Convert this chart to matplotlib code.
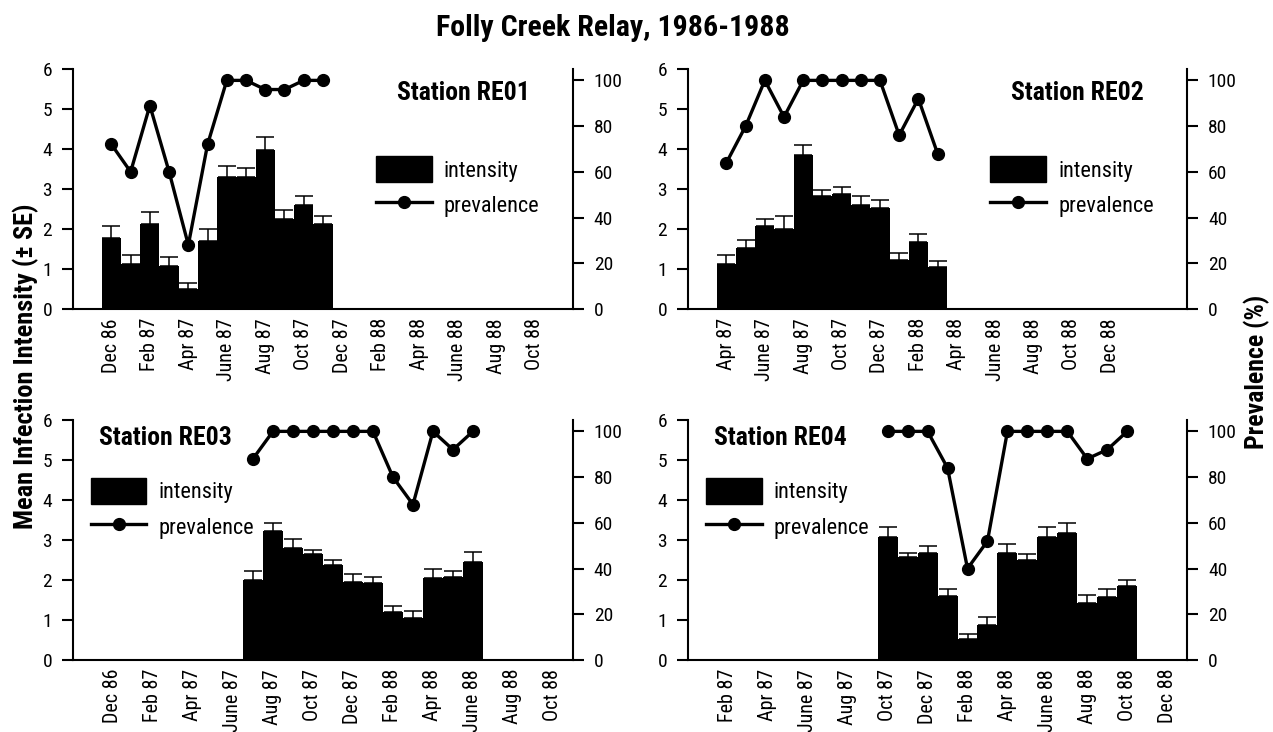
import numpy as np
import matplotlib
matplotlib.use('Agg')
import matplotlib.pyplot as plt
from matplotlib.patches import Patch
from matplotlib.lines import Line2D

plt.rcParams['font.family'] = ['Roboto Condensed', 'Liberation Sans', 'DejaVu Sans']

# data
stations = ['Station RE01', 'Station RE02', 'Station RE03', 'Station RE04']

re01_intensity = [1.77, 1.13, 2.12, 1.08, 0.50, 1.69, 3.30, 3.30, 3.97, 2.26, 2.60, 2.12]
re01_se = [0.30, 0.21, 0.31, 0.23, 0.15, 0.31, 0.27, 0.23, 0.32, 0.21, 0.22, 0.20]
re01_prev = [72, 60, 89, 60, 28, 72, 100, 100, 96, 96, 100, 100]

re02_intensity = [1.13, 1.52, 2.08, 2.00, 3.84, 2.82, 2.88, 2.61, 2.53, 1.22, 1.68, 1.04]
re02_se = [0.22, 0.21, 0.18, 0.32, 0.27, 0.15, 0.18, 0.21, 0.20, 0.18, 0.20, 0.17]
re02_prev = [64, 80, 100, 84, 100, 100, 100, 100, 100, 76, 92, 68]

re03_intensity = [2.00, 3.23, 2.81, 2.65, 2.37, 1.96, 1.93, 1.21, 1.05, 2.04, 2.08, 2.44]
re03_se = [0.23, 0.20, 0.21, 0.10, 0.13, 0.19, 0.15, 0.14, 0.17, 0.23, 0.15, 0.27]
re03_prev = [88, 100, 100, 100, 100, 100, 100, 80, 68, 100, 92, 100]

re04_intensity = [3.08, 2.58, 2.68, 1.61, 0.53, 0.88, 2.68, 2.49, 3.08, 3.17, 1.42, 1.57, 1.85]
re04_se = [0.24, 0.10, 0.17, 0.17, 0.12, 0.19, 0.22, 0.16, 0.24, 0.26, 0.20, 0.21, 0.14]
re04_prev = [100, 100, 100, 84, 40, 52, 100, 100, 100, 100, 88, 92, 100]

# first sampled month of each station
first_month = ['Dec 86', 'Apr 87', 'July 87', 'Oct 87']

ticks_a = ['Dec 86', 'Feb 87', 'Apr 87', 'June 87', 'Aug 87', 'Oct 87',
           'Dec 87', 'Feb 88', 'Apr 88', 'June 88', 'Aug 88', 'Oct 88']
ticks_b = ['Apr 87', 'June 87', 'Aug 87', 'Oct 87', 'Dec 87', 'Feb 88',
           'Apr 88', 'June 88', 'Aug 88', 'Oct 88', 'Dec 88']
ticks_c = ['Feb 87', 'Apr 87', 'June 87', 'Aug 87', 'Oct 87', 'Dec 87',
           'Feb 88', 'Apr 88', 'June 88', 'Aug 88', 'Oct 88', 'Dec 88']

MONTHS = {'Jan': 1, 'Feb': 2, 'Mar': 3, 'Apr': 4, 'May': 5, 'June': 6,
          'July': 7, 'Aug': 8, 'Sept': 9, 'Oct': 10, 'Nov': 11, 'Dec': 12}


def month_index(label):
    name, yy = label.split()
    return int(yy) * 12 + MONTHS[name]


panels = [
    (re01_intensity, re01_se, re01_prev, ticks_a, (0.0573, 0.5779, 0.3928, 0.3279), 24, 'right'),
    (re02_intensity, re02_se, re02_prev, ticks_b, (0.5405, 0.5779, 0.3920, 0.3279), 24, 'right'),
    (re03_intensity, re03_se, re03_prev, ticks_a, (0.0573, 0.0984, 0.3928, 0.3279), 23, 'left'),
    (re04_intensity, re04_se, re04_prev, ticks_c, (0.5405, 0.0984, 0.3920, 0.3279), 23, 'left'),
]

fig = plt.figure(figsize=(12.73, 7.32), dpi=100)

for i, (inten, se, prev, ticks, rect, xmax, side) in enumerate(panels):
    ax = fig.add_axes(rect)
    origin = month_index(ticks[0])
    x = month_index(first_month[i]) - origin + np.arange(len(inten))
    tick_pos = [month_index(t) - origin for t in ticks]

    ax.bar(x, inten, width=1.0, color='black', linewidth=0)
    ax.errorbar(x, inten, yerr=[np.zeros(len(se)), se], fmt='none', ecolor='black',
                elinewidth=1.1, capsize=6.8, capthick=1.1)
    ax.set_xlim(-2, xmax)
    ax.set_ylim(0, 6)
    ax.set_yticks(range(7))
    ax.set_xticks(tick_pos)
    ax.set_xticklabels(ticks, rotation=90)
    ax.tick_params(axis='x', length=0, pad=6.5, labelsize=14.5)
    ax.tick_params(axis='y', length=8, width=1.5, pad=7, labelsize=14)
    for s in ['top', 'right']:
        ax.spines[s].set_visible(False)
    for s in ['left', 'bottom']:
        ax.spines[s].set_linewidth(1.5)

    ax2 = ax.twinx()
    ax2.plot(x, prev, color='black', marker='o', lw=2.4, ms=8.5)
    ax2.set_ylim(0, 105)
    ax2.set_yticks(range(0, 101, 20))
    ax2.tick_params(axis='y', length=8, width=1.5, pad=7, labelsize=14)
    for s in ['top', 'left', 'bottom']:
        ax2.spines[s].set_visible(False)
    ax2.spines['right'].set_linewidth(1.5)

    handles = [Patch(facecolor='black', edgecolor='black'),
               Line2D([], [], color='black', marker='o', lw=2.4, ms=8.5)]
    if side == 'right':
        ax2.text(0.914, 0.9, stations[i], transform=ax2.transAxes, ha='right', va='center',
                 fontsize=18.5, fontweight='bold')
        anchor = (0.606, 0.636)
    else:
        ax2.text(0.052, 0.925, stations[i], transform=ax2.transAxes, ha='left', va='center',
                 fontsize=18.5, fontweight='bold')
        anchor = (0.036, 0.757)
    ax2.legend(handles, ['intensity', 'prevalence'], loc='upper left', bbox_to_anchor=anchor,
               frameon=False, fontsize=16, handlelength=2.5, handleheight=1.4,
               handletextpad=0.55, labelspacing=0.45, borderpad=0, borderaxespad=0)

fig.text(0.4815, 0.962, 'Folly Creek Relay, 1986-1988', ha='center', va='center',
         fontsize=21.5, fontweight='bold')
fig.text(0.02, 0.5, 'Mean Infection Intensity (\u00b1 SE)', rotation=90, ha='center',
         va='center', fontsize=19, fontweight='bold')
fig.text(0.987, 0.492, 'Prevalence (%)', rotation=90, ha='center', va='center',
         fontsize=18.5, fontweight='bold')

fig.savefig('out.png', dpi=100)
